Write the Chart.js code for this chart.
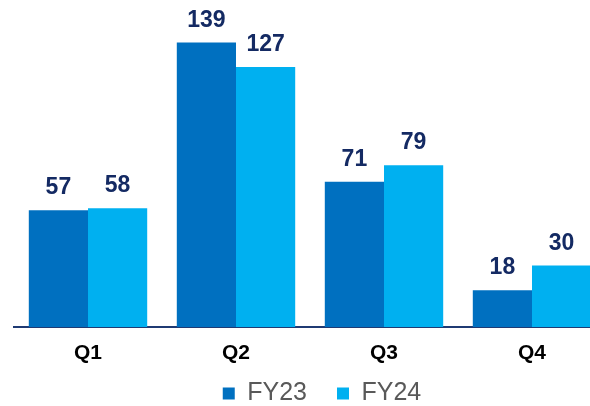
<!DOCTYPE html>
<html lang="en">
<head>
    <meta charset="UTF-8">
    <title>FY23 vs FY24 by quarter</title>
    <script src="https://cdn.jsdelivr.net/npm/chart.js"></script>
    <style>
        html, body {
            margin: 0;
            padding: 0;
            width: 590px;
            height: 406px;
            overflow: hidden;
            background: #fff;
            font-family: "Liberation Sans", Arial, sans-serif;
        }

        .chart-box {
            position: absolute;
            left: 0;
            top: 0;
            width: 630px;
            height: 439px;
        }
    </style>
</head>
<body>
    <div class="chart-box">
        <canvas id="grafico"></canvas>
    </div>

    <script>
        const quarters = ['Q1', 'Q2', 'Q3', 'Q4'];
        const fy23 = [57, 139, 71, 18];
        const fy24 = [58, 127, 79, 30];

        // values above each bar
        const barLabels = {
            id: 'barLabels',
            afterDatasetsDraw(chart) {
                const ctx = chart.ctx;
                ctx.save();
                ctx.font = 'bold 23px "Liberation Sans", Arial, sans-serif';
                ctx.fillStyle = '#142a63';
                ctx.textAlign = 'center';
                ctx.textBaseline = 'alphabetic';
                chart.data.datasets.forEach((ds, i) => {
                    chart.getDatasetMeta(i).data.forEach((bar, j) => {
                        ctx.fillText(ds.data[j], bar.x, bar.y - 16);
                    });
                });
                ctx.restore();
            }
        };

        // legend padding is wide (for item spacing), pull it up closer to the axis
        const legendNudge = {
            id: 'legendNudge',
            afterLayout(chart) {
                chart.legend.top -= 23;
                chart.legend.bottom -= 23;
            }
        };

        new Chart(document.getElementById('grafico'), {
            type: 'bar',
            data: {
                labels: quarters,
                datasets: [
                    { label: 'FY23', data: fy23, backgroundColor: '#0070c0' },
                    { label: 'FY24', data: fy24, backgroundColor: '#00b0f0' }
                ]
            },
            options: {
                responsive: true,
                maintainAspectRatio: false,
                animation: false,
                layout: { padding: { left: 14, right: 0, top: 20, bottom: 0 } },
                datasets: {
                    bar: { categoryPercentage: 0.8, barPercentage: 1.0 }
                },
                scales: {
                    x: {
                        grid: { display: false, drawTicks: false },
                        border: { display: true, color: '#1f3a73', width: 2 },
                        ticks: {
                            color: '#000',
                            padding: 14,
                            font: { family: '"Liberation Sans", Arial, sans-serif', size: 21, weight: 'bold' }
                        },
                        afterFit(scale) { scale.height = 47; }
                    },
                    y: {
                        position: 'right',
                        min: 0,
                        max: 150,
                        grid: { display: false, drawTicks: false },
                        border: { display: false },
                        ticks: { display: false },
                        afterFit(scale) { scale.width = 24; }
                    }
                },
                plugins: {
                    tooltip: { enabled: false },
                    legend: {
                        position: 'bottom',
                        labels: {
                            color: '#595959',
                            boxWidth: 12,
                            boxHeight: 12,
                            padding: 30,
                            font: { family: '"Liberation Sans", Arial, sans-serif', size: 25 }
                        }
                    }
                }
            },
            plugins: [barLabels, legendNudge]
        });
    </script>
</body>
</html>
